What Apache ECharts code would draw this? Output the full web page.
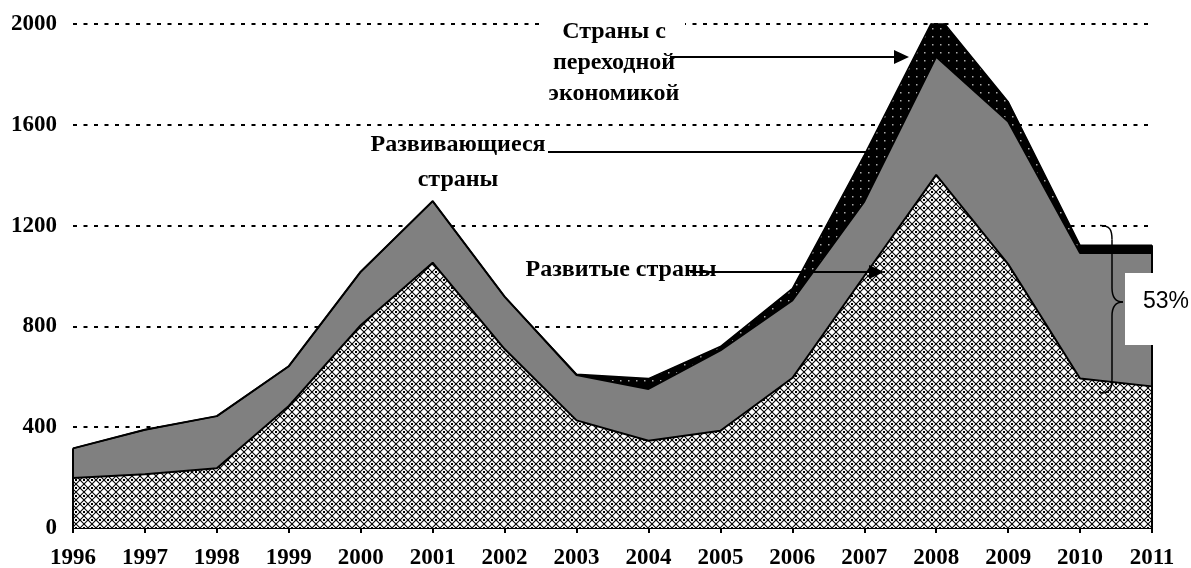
<!DOCTYPE html>
<html>
<head>
<meta charset="utf-8">
<script src="https://cdn.jsdelivr.net/npm/echarts@6/dist/echarts.min.js"></script>
<style>
html, body { margin: 0; padding: 0; background: #fff; }
#chart { width: 1191px; height: 568px; }
</style>
</head>
<body>
<div id="chart"></div>
<script>
// данные
var years = ['1996', '1997', '1998', '1999', '2000', '2001', '2002', '2003', '2004', '2005', '2006', '2007', '2008', '2009', '2010', '2011'];
var developed  = [198, 213, 237, 484, 805, 1053, 710, 427, 346, 386, 595, 1000, 1401, 1047, 593, 562];
var developing = [118, 177, 207, 158, 212, 244, 208, 180, 206, 319, 308, 295, 469, 566, 498, 529];
var transition = [0, 0, 0, 0, 0, 0, 0, 3, 41, 15, 47, 185, 172, 79, 31, 31];
var yTicks = [0, 400, 800, 1200, 1600, 2000];

var serif = '"Liberation Serif", "Times New Roman", serif';

// штриховка для развитых стран
function hatchPattern() {
	var c = document.createElement('canvas');
	c.width = 8; c.height = 8;
	var g = c.getContext('2d');
	g.fillStyle = '#fff';
	g.fillRect(0, 0, 8, 8);
	g.strokeStyle = '#000';
	g.lineWidth = 1.1;
	for (var k = -8; k <= 8; k += 8) {
		g.beginPath(); g.moveTo(k, 0); g.lineTo(k + 8, 8); g.stroke();
		g.beginPath(); g.moveTo(k, 8); g.lineTo(k + 8, 0); g.stroke();
	}
	g.fillStyle = '#000';
	g.fillRect(3, 0, 2, 1);
	g.fillRect(3, 7, 2, 1);
	return c;
}

// чёрный с точками
function dotPattern() {
	var c = document.createElement('canvas');
	c.width = 8; c.height = 8;
	var g = c.getContext('2d');
	g.fillStyle = '#000';
	g.fillRect(0, 0, 8, 8);
	g.fillStyle = '#aaa';
	g.fillRect(4, 4, 1.5, 1.5);
	return c;
}

var chart = echarts.init(document.getElementById('chart'));

var option = {
	animation: false,
	backgroundColor: '#fff',
	grid: { left: 73, right: 39, top: 24, bottom: 40, containLabel: false, outerBoundsMode: 'none' },
	xAxis: {
		type: 'category',
		data: years,
		boundaryGap: false,
		axisLine: { lineStyle: { color: '#000', width: 2 } },
		axisTick: { show: true, length: 5, lineStyle: { color: '#000', width: 2 } },
		axisLabel: { color: '#000', fontFamily: serif, fontWeight: 'bold', fontSize: 23, margin: 19 },
		splitLine: { show: false }
	},
	yAxis: {
		type: 'value',
		min: yTicks[0],
		max: yTicks[yTicks.length - 1],
		interval: yTicks[1] - yTicks[0],
		axisLine: { show: false },
		axisTick: { show: false },
		axisLabel: { color: '#000', fontFamily: serif, fontWeight: 'bold', fontSize: 23, margin: 16, formatter: function (v) { return String(v); } },
		splitLine: { show: true, lineStyle: { color: '#000', width: 2, type: [4, 6.5] } }
	},
	series: [{
		name: 'Развитые страны',
		type: 'line',
		stack: 'total',
		symbol: 'none',
		lineStyle: { color: '#000', width: 2 },
		areaStyle: { color: { image: hatchPattern(), repeat: 'repeat' }, opacity: 1 },
		data: developed
	}, {
		name: 'Развивающиеся страны',
		type: 'line',
		stack: 'total',
		symbol: 'none',
		lineStyle: { color: '#000', width: 2 },
		areaStyle: { color: '#808080', opacity: 1 },
		data: developing
	}, {
		name: 'Страны с переходной экономикой',
		type: 'line',
		stack: 'total',
		symbol: 'none',
		lineStyle: { color: '#000', width: 1.5 },
		areaStyle: { color: { image: dotPattern(), repeat: 'repeat' }, opacity: 1 },
		data: transition
	}]
};
chart.setOption(option);

// подписи, стрелки и скобка
function px(i, v) { return chart.convertToPixel({ gridIndex: 0 }, [i, v]); }
var last = years.length - 1;
var total0 = developed[0] + developing[0] + transition[0];
var totalN = developed[last] + developing[last] + transition[last];
var l0 = px(0, 0), l1 = px(0, total0);
var r0 = px(last, 0), r1 = px(last, totalN);

function arrowHead(x, y) {
	return { type: 'polygon', z: 110, shape: { points: [[x, y], [x - 15, y - 7], [x - 15, y + 7]] }, style: { fill: '#000' } };
}
function hline(x1, x2, y) {
	return { type: 'line', z: 110, shape: { x1: x1, y1: y, x2: x2, y2: y }, style: { stroke: '#000', lineWidth: 2 } };
}
function label(text, x, y, lh) {
	return {
		type: 'text', z: 105, x: x, y: y,
		style: { text: text, fill: '#000', font: 'bold 24px ' + serif, align: 'center', verticalAlign: 'middle', lineHeight: lh || 24 }
	};
}
function curve(x1, y1, cx1, cy1, cx2, cy2, x2, y2) {
	return { type: 'bezierCurve', z: 102, shape: { x1: x1, y1: y1, cpx1: cx1, cpy1: cy1, cpx2: cx2, cpy2: cy2, x2: x2, y2: y2 }, style: { stroke: '#000', lineWidth: 1.5, fill: null } };
}
function seg(x1, y1, x2, y2) {
	return { type: 'line', z: 102, shape: { x1: x1, y1: y1, x2: x2, y2: y2 }, style: { stroke: '#000', lineWidth: 1.5 } };
}

// скобка 53%
var bx = 1112, bTop = px(0, 1200)[1], bMid = 302, bBot = 393;
var brace = [
	curve(bx - 12, bTop, bx - 2, bTop, bx, bTop + 4, bx, bTop + 14),
	seg(bx, bTop + 14, bx, bMid - 14),
	curve(bx, bMid - 14, bx, bMid - 4, bx + 4, bMid, bx + 11, bMid),
	curve(bx + 11, bMid, bx + 4, bMid, bx, bMid + 4, bx, bMid + 14),
	seg(bx, bMid + 14, bx, bBot - 14),
	curve(bx, bBot - 14, bx, bBot - 4, bx - 2, bBot, bx - 12, bBot)
];

chart.setOption({
	graphic: [
		{ type: 'line', z: 100, shape: { x1: l0[0], y1: l0[1], x2: l1[0], y2: l1[1] }, style: { stroke: '#000', lineWidth: 2 } },
		{ type: 'line', z: 100, shape: { x1: r0[0], y1: r0[1], x2: r1[0], y2: r1[1] }, style: { stroke: '#000', lineWidth: 2 } },
		// белая подложка верхней подписи
		{ type: 'rect', z: 101, shape: { x: 543, y: 8, width: 142, height: 102 }, style: { fill: '#fff' } },
		label('Страны с\nпереходной\nэкономикой', 614, 63, 31),
		hline(670, 895, 57), arrowHead(909, 57),
		label('Развивающиеся', 458, 145),
		label('страны', 458, 180),
		hline(548, 866, 152),
		hline(690, 870, 272), arrowHead(884, 272),
		label('Развитые страны', 621, 270),
		{ type: 'rect', z: 101, shape: { x: 1125, y: 273, width: 66, height: 72 }, style: { fill: '#fff' } },
		{ type: 'text', z: 103, x: 1143, y: 302, style: { text: '53%', fill: '#000', font: '23px "Liberation Sans", Arial, sans-serif', align: 'left', verticalAlign: 'middle' } }
	].concat(brace)
});
</script>
</body>
</html>
